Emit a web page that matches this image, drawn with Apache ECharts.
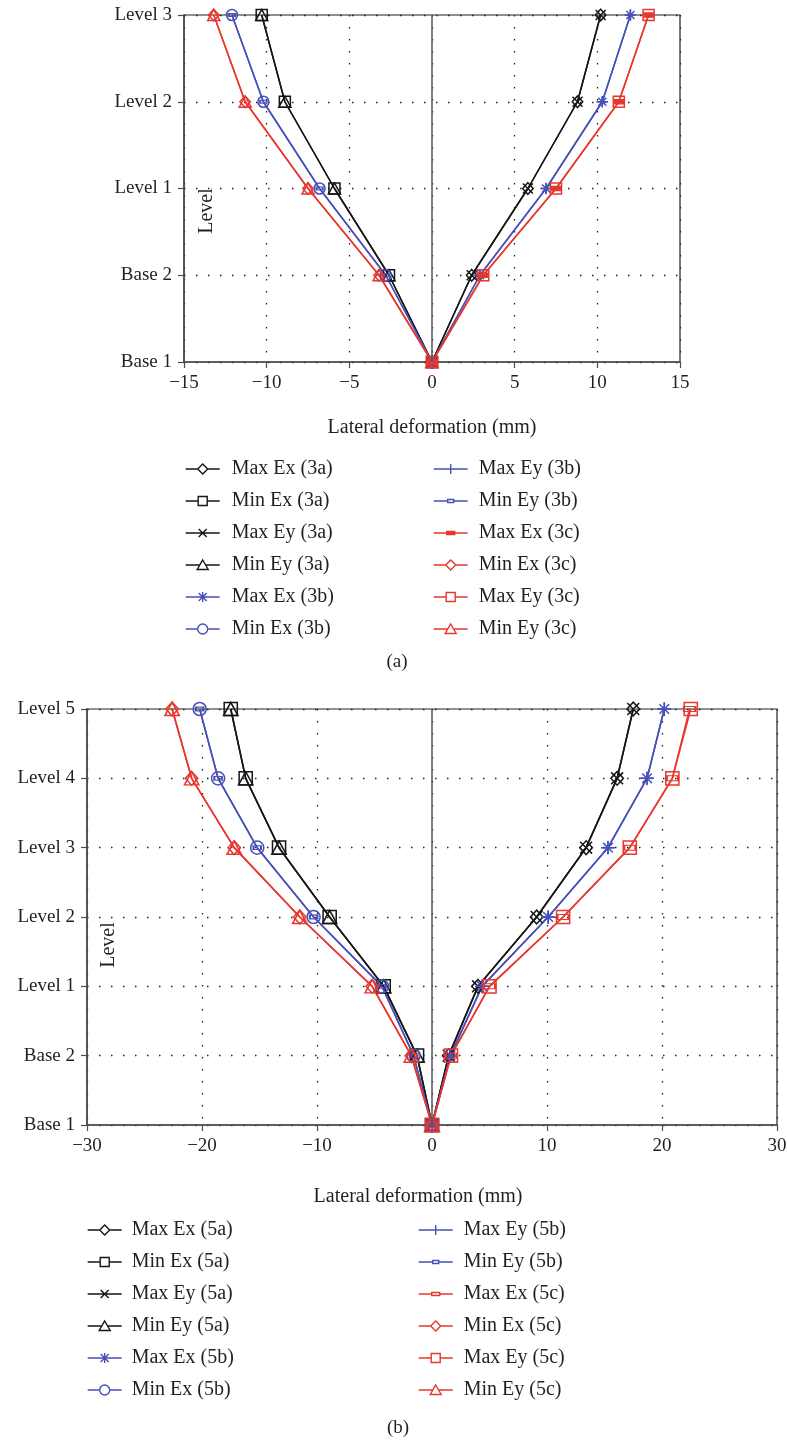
<!DOCTYPE html>
<html><head><meta charset="utf-8">
<script src="https://cdn.jsdelivr.net/npm/echarts@6/dist/echarts.min.js"></script>
<style>html,body{margin:0;padding:0;background:#fff}#c{width:787px;height:1444px}</style>
</head><body><div id="c"></div>
<script>
// ---------- data ----------
const levelsA = ['Base 1', 'Base 2', 'Level 1', 'Level 2', 'Level 3'];
const levelsB = ['Base 1', 'Base 2', 'Level 1', 'Level 2', 'Level 3', 'Level 4', 'Level 5'];
const xRangeA = [-15, 15, 5];
const xRangeB = [-30, 30, 10];

// chart (a)
const maxEx3a = [0, 2.4, 5.8, 8.8, 10.2];
const minEx3a = [0, -2.6, -5.9, -8.9, -10.3];
const maxEy3a = [0, 2.4, 5.8, 8.8, 10.2];
const minEy3a = [0, -2.6, -5.9, -8.9, -10.3];
const maxEx3b = [0, 2.9, 6.9, 10.3, 12.0];
const minEx3b = [0, -2.8, -6.8, -10.2, -12.1];
const maxEy3b = [0, 2.9, 6.9, 10.3, 12.0];
const minEy3b = [0, -2.8, -6.8, -10.2, -12.1];
const maxEx3c = [0, 3.1, 7.5, 11.3, 13.1];
const minEx3c = [0, -3.2, -7.5, -11.3, -13.2];
const maxEy3c = [0, 3.1, 7.5, 11.3, 13.1];
const minEy3c = [0, -3.2, -7.5, -11.3, -13.2];

// chart (b)
const maxEx5a = [0, 1.45, 4.0, 9.1, 13.4, 16.1, 17.5];
const minEx5a = [0, -1.3, -4.2, -8.9, -13.3, -16.2, -17.5];
const maxEy5a = [0, 1.45, 4.0, 9.1, 13.4, 16.1, 17.5];
const minEy5a = [0, -1.3, -4.2, -8.9, -13.3, -16.2, -17.5];
const maxEx5b = [0, 1.6, 4.35, 10.1, 15.3, 18.7, 20.2];
const minEx5b = [0, -1.6, -4.35, -10.3, -15.2, -18.6, -20.2];
const maxEy5b = [0, 1.6, 4.35, 10.1, 15.3, 18.7, 20.2];
const minEy5b = [0, -1.6, -4.35, -10.3, -15.2, -18.6, -20.2];
const maxEx5c = [0, 1.65, 5.0, 11.4, 17.2, 20.9, 22.4];
const minEx5c = [0, -1.8, -5.2, -11.5, -17.2, -20.9, -22.6];
const maxEy5c = [0, 1.65, 5.0, 11.4, 17.2, 20.9, 22.5];
const minEy5c = [0, -1.8, -5.2, -11.5, -17.2, -20.9, -22.6];

const seriesA = [
  ['Max Ex (3a)', maxEx3a, 'black', 'diamond'],
  ['Min Ex (3a)', minEx3a, 'black', 'square'],
  ['Max Ey (3a)', maxEy3a, 'black', 'x'],
  ['Min Ey (3a)', minEy3a, 'black', 'triangle'],
  ['Max Ex (3b)', maxEx3b, 'blue', 'asterisk'],
  ['Min Ex (3b)', minEx3b, 'blue', 'circle'],
  ['Max Ey (3b)', maxEy3b, 'blue', 'plus'],
  ['Min Ey (3b)', minEy3b, 'blue', 'smallrect'],
  ['Max Ex (3c)', maxEx3c, 'red', 'bar'],
  ['Min Ex (3c)', minEx3c, 'red', 'diamond'],
  ['Max Ey (3c)', maxEy3c, 'red', 'square'],
  ['Min Ey (3c)', minEy3c, 'red', 'triangle']
];
const seriesB = [
  ['Max Ex (5a)', maxEx5a, 'black', 'diamond'],
  ['Min Ex (5a)', minEx5a, 'black', 'square'],
  ['Max Ey (5a)', maxEy5a, 'black', 'x'],
  ['Min Ey (5a)', minEy5a, 'black', 'triangle'],
  ['Max Ex (5b)', maxEx5b, 'blue', 'asterisk'],
  ['Min Ex (5b)', minEx5b, 'blue', 'circle'],
  ['Max Ey (5b)', maxEy5b, 'blue', 'plus'],
  ['Min Ey (5b)', minEy5b, 'blue', 'smallrect'],
  ['Max Ex (5c)', maxEx5c, 'red', 'hollowbar'],
  ['Min Ex (5c)', minEx5c, 'red', 'diamond'],
  ['Max Ey (5c)', maxEy5c, 'red', 'square'],
  ['Min Ey (5c)', minEy5c, 'red', 'triangle']
];

// ---------- styles ----------
const COLORS = { black: '#161616', blue: '#4650b8', red: '#e8372e' };
const FONT = '"Liberation Serif", "Times New Roman", serif';
const TXT = '#231f20';
const BOX = 'M0,0M34,12';
const MARK = {
  diamond:  { symbol: 'diamond', size: [10, 11], icon: BOX + 'M0,6L12,6M22,6L34,6M17,1L22,6L17,11L12,6Z' },
  square:   { symbol: 'rect', size: 10.5, icon: BOX + 'M0,6L12.5,6M21.5,6L34,6M12.5,1.5L21.5,1.5L21.5,10.5L12.5,10.5Z' },
  x:        { symbol: 'path://M0,0L10,10M10,0L0,10', size: 9.5, icon: BOX + 'M0,6L34,6M13,2L21,10M21,2L13,10' },
  triangle: { symbol: 'triangle', size: [11.5, 10.5], icon: BOX + 'M0,6L14.1,6M19.9,6L34,6M17,1L22.5,10.5L11.5,10.5Z' },
  asterisk: { symbol: 'path://M5,0L5,10M0,5L10,5M1.5,1.5L8.5,8.5M8.5,1.5L1.5,8.5', size: 11, icon: BOX + 'M0,6L34,6M17,1L17,11M13,2L21,10M21,2L13,10' },
  circle:   { symbol: 'circle', size: 10.5, icon: BOX + 'M0,6L12,6M22,6L34,6M22,6A5,5,0,1,1,12,6A5,5,0,1,1,22,6Z' },
  plus:     { symbol: 'path://M5,0L5,10M0,5L10,5', size: 10, icon: BOX + 'M0,6L34,6M17,1L17,11' },
  smallrect:{ symbol: 'rect', size: [6, 3], icon: BOX + 'M0,6L14,6M20,6L34,6M14,4.5L20,4.5L20,7.5L14,7.5Z' },
  bar:      { symbol: 'rect', size: [8, 4], filled: true, icon: BOX + 'M0,6L13,6M21,6L34,6M13,4.5L21,4.5L21,7.5L13,7.5Z' },
  hollowbar:{ symbol: 'rect', size: [9, 4], icon: BOX + 'M0,6L13,6M21,6L34,6M13,4.5L21,4.5L21,7.5L13,7.5Z' }
};

function buildSeries(list, cats, gi, scale, lw) {
  return list.map(([name, vals, col, mk], idx) => {
    const c = COLORS[col], m = MARK[mk];
    const sz = Array.isArray(m.size) ? m.size.map(s => s * scale) : m.size * scale;
    const s = {
      type: 'line', name, xAxisIndex: gi, yAxisIndex: gi,
      data: vals.map((v, i) => [v, cats[i]]),
      symbol: m.symbol, symbolSize: sz, symbolKeepAspect: false,
      color: c,
      lineStyle: { color: c, width: lw },
      itemStyle: { color: m.filled ? c : 'rgba(255,255,255,0)', borderColor: c, borderWidth: 1.5 },
      emphasis: { disabled: true },
      animation: false, silent: true
    };
    if (idx === 0) {
      s.markLine = {
        silent: true, symbol: 'none', label: { show: false }, animation: false,
        lineStyle: { color: '#555', type: 'solid', width: 1.5 },
        data: [{ xAxis: 0 }]
      };
    }
    return s;
  });
}

function legendItems(list) {
  return list.map(([name, vals, col, mk]) => {
    const c = COLORS[col], m = MARK[mk];
    return { name, icon: 'path://' + m.icon,
      itemStyle: { color: m.filled ? c : '#fff', borderColor: c, borderWidth: 1.4 } };
  });
}

function makeLegend(items, left, top, pad) {
  return {
    orient: 'vertical', left, top, padding: 0,
    itemWidth: 34, itemHeight: 12, itemGap: 12,
    selectedMode: false, symbolKeepAspect: true,
    textStyle: { fontFamily: FONT, fontSize: 20, color: TXT, lineHeight: 20, padding: [0, 0, 0, pad] },
    data: items
  };
}

const minusFmt = v => (v < 0 ? '\u2212' + Math.abs(v) : String(v));

function xAxis(gi, rng, nameGap, namePad) {
  return {
    type: 'value', gridIndex: gi, min: rng[0], max: rng[1], interval: rng[2],
    name: 'Lateral deformation (mm)', nameLocation: 'middle', nameGap,
    nameTextStyle: { fontFamily: FONT, fontSize: 20, color: TXT, padding: namePad },
    axisLine: { show: true, onZero: false, lineStyle: { color: '#4d4d4d', width: 1.5 } },
    axisTick: { show: true, length: 6, lineStyle: { color: '#4d4d4d', width: 1.2 } },
    axisLabel: { fontFamily: FONT, fontSize: 19, color: TXT, margin: 12, formatter: minusFmt },
    splitLine: { show: true, lineStyle: { color: '#222', width: 1.3, type: [1.5, 10.5] } }
  };
}
function yAxis(gi, cats) {
  return {
    type: 'category', gridIndex: gi, data: cats, boundaryGap: false,
    axisLine: { show: true, onZero: false, lineStyle: { color: '#4d4d4d', width: 1.5 } },
    axisTick: { show: true, length: 6, alignWithLabel: true, lineStyle: { color: '#4d4d4d', width: 1.2 } },
    axisLabel: { fontFamily: FONT, fontSize: 19, color: TXT, margin: 12 },
    splitLine: { show: true, lineStyle: { color: '#222', width: 1.3, type: [1.5, 10.5] } }
  };
}

const half = n => [n.slice(0, 6), n.slice(6)];
const [la1, la2] = half(legendItems(seriesA));
const [lb1, lb2] = half(legendItems(seriesB));

const option = {
  backgroundColor: '#fff',
  animation: false,
  grid: [
    { left: 184, top: 15, width: 496, height: 347, show: true, borderColor: '#222', borderWidth: 1.2, backgroundColor: 'transparent', outerBoundsMode: 'none' },
    { left: 87, top: 709, width: 690, height: 416, show: true, borderColor: '#222', borderWidth: 1.2, backgroundColor: 'transparent', outerBoundsMode: 'none' }
  ],
  xAxis: [xAxis(0, xRangeA, 56, [0, 0, 0, 0]), xAxis(1, xRangeB, 62, [0, 28, 0, 0])],
  yAxis: [yAxis(0, levelsA), yAxis(1, levelsB)],
  legend: [
    makeLegend(la1, 185, 459, 7),
    makeLegend(la2, 433, 459, 6),
    makeLegend(lb1, 87, 1220, 5),
    makeLegend(lb2, 418, 1220, 6)
  ],
  graphic: [
    { type: 'text', x: 207, y: 211, rotation: Math.PI / 2,
      style: { text: 'Level', fontFamily: FONT, fontSize: 20, fill: TXT, align: 'center', verticalAlign: 'middle' } },
    { type: 'text', x: 109, y: 945, rotation: Math.PI / 2,
      style: { text: 'Level', fontFamily: FONT, fontSize: 20, fill: TXT, align: 'center', verticalAlign: 'middle' } },
    { type: 'text', x: 397, y: 662,
      style: { text: '(a)', fontFamily: FONT, fontSize: 19, fill: TXT, align: 'center', verticalAlign: 'middle' } },
    { type: 'text', x: 398, y: 1428,
      style: { text: '(b)', fontFamily: FONT, fontSize: 19, fill: TXT, align: 'center', verticalAlign: 'middle' } }
  ],
  series: [...buildSeries(seriesA, levelsA, 0, 1.05, 1.5), ...buildSeries(seriesB, levelsB, 1, 1.25, 1.6)]
};

const chart = echarts.init(document.getElementById('c'), null, { renderer: 'canvas' });
chart.setOption(option);
</script>
</body></html>
